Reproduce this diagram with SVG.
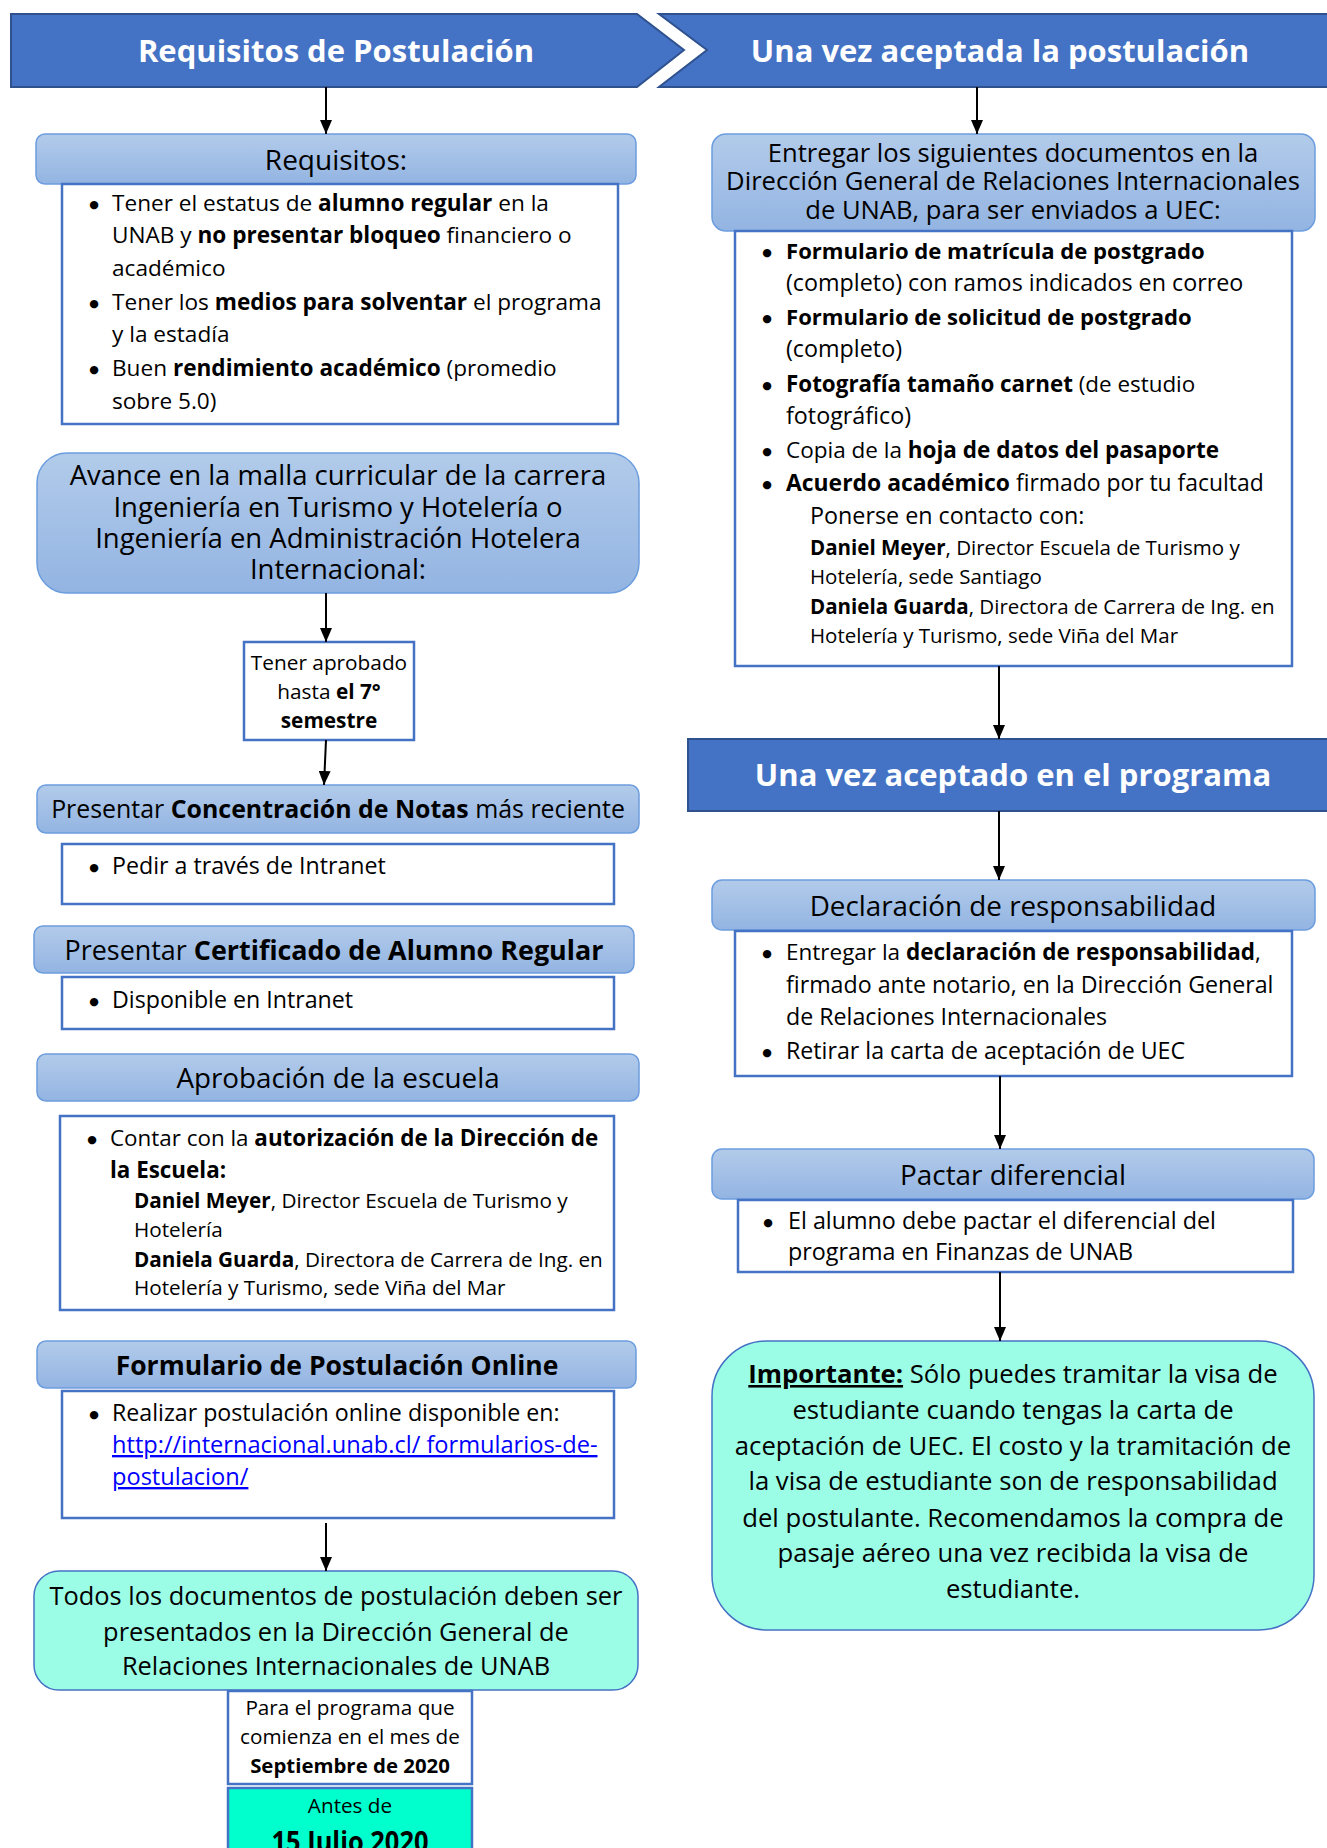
<svg xmlns="http://www.w3.org/2000/svg" width="1327" height="1848" viewBox="0 0 1327 1848">
<defs>
<linearGradient id="g" x1="0" y1="0" x2="0" y2="1">
<stop offset="0" stop-color="#B2CBEA"/>
<stop offset="1" stop-color="#93B4E2"/>
</linearGradient>
<marker id="ah" viewBox="0 0 14 12" refX="14" refY="6" markerWidth="14" markerHeight="12" markerUnits="userSpaceOnUse" orient="auto">
<path d="M0,0 L14,6 L0,12 z" fill="#000"/>
</marker>
<style>
text{font-family:"Open Sans","Noto Sans",sans-serif;fill:#000}
.b{font-weight:bold}
.m{text-anchor:middle}
.w{fill:#fff;font-weight:bold}
.bu{text-anchor:middle;font-family:"DejaVu Sans",sans-serif;font-size:11px}
.ban{fill:#4472C4;stroke:#2F528F;stroke-width:2}
.hdr{fill:url(#g);stroke:#6C9DDE;stroke-width:1.5}
.lst{fill:#fff;stroke:#4472C4;stroke-width:2.5}
.mint{fill:#9CFDE6;stroke:#4472C4;stroke-width:1.5}
.aq{fill:#00FFCC;stroke:#4472C4;stroke-width:2.5}
.lnk{fill:#0000FF;text-decoration:underline}
.con line{stroke:#000;stroke-width:2;marker-end:url(#ah)}
</style>
</defs>
<rect width="1327" height="1848" fill="#fff"/>

<g id="banner-requisitos">
<polygon class="ban" points="11,14 637,14 684,50 637,87 11,87"/>
<text class="w m" x="336" y="62" font-size="31">Requisitos de Postulación</text>
</g>
<g id="banner-aceptada">
<polygon class="ban" points="659,14 1328,14 1328,87 659,87 707,50"/>
<text class="w m" x="1000" y="62" font-size="31">Una vez aceptada la postulación</text>
</g>

<g id="requisitos-header">
<rect class="hdr" x="36" y="134" width="600" height="50" rx="9"/>
<text class="m" x="336" y="170" font-size="28">Requisitos:</text>
</g>
<g id="requisitos-list" font-size="22.6">
<rect class="lst" x="62" y="184" width="556" height="240"/>
<text class="bu" x="94" y="208">●</text>
<text x="112" y="211">Tener el estatus de <tspan class="b">alumno regular</tspan> en la</text>
<text x="112" y="243">UNAB y <tspan class="b">no presentar bloqueo</tspan> financiero o</text>
<text x="112" y="276">académico</text>
<text class="bu" x="94" y="307">●</text>
<text x="112" y="310">Tener los <tspan class="b">medios para solventar</tspan> el programa</text>
<text x="112" y="342">y la estadía</text>
<text class="bu" x="94" y="373">●</text>
<text x="112" y="376">Buen <tspan class="b">rendimiento académico</tspan> (promedio</text>
<text x="112" y="409">sobre 5.0)</text>
</g>

<g id="avance">
<rect class="hdr" x="37" y="453" width="602" height="140" rx="30"/>
<text class="m" font-size="27.5"><tspan x="338" y="485">Avance en la malla curricular de la carrera</tspan><tspan x="338" y="517">Ingeniería en Turismo y Hotelería o</tspan><tspan x="338" y="548">Ingeniería en Administración Hotelera</tspan><tspan x="338" y="579">Internacional:</tspan></text>
</g>

<g id="septimo">
<rect class="lst" x="244" y="642" width="170" height="98"/>
<text class="m" font-size="20.8"><tspan x="329" y="670">Tener aprobado</tspan><tspan x="329" y="699">hasta <tspan class="b">el 7°</tspan></tspan><tspan class="b" x="329" y="728">semestre</tspan></text>
</g>

<g id="concentracion-header">
<rect class="hdr" x="37" y="785" width="602" height="48" rx="9"/>
<text class="m" x="338" y="818" font-size="24.9">Presentar <tspan class="b">Concentración de Notas</tspan> más reciente</text>
</g>
<g id="concentracion-list" font-size="23.2">
<rect class="lst" x="62" y="844" width="552" height="60"/>
<text class="bu" x="94" y="871">●</text>
<text x="112" y="874">Pedir a través de Intranet</text>
</g>

<g id="certificado-header">
<rect class="hdr" x="34" y="926" width="600" height="47" rx="9"/>
<text class="m" x="334" y="960" font-size="26.9">Presentar <tspan class="b">Certificado de Alumno Regular</tspan></text>
</g>
<g id="certificado-list" font-size="23.2">
<rect class="lst" x="62" y="977" width="552" height="52"/>
<text class="bu" x="94" y="1005">●</text>
<text x="112" y="1008">Disponible en Intranet</text>
</g>

<g id="escuela-header">
<rect class="hdr" x="37" y="1054" width="602" height="47" rx="9"/>
<text class="m" x="338" y="1088" font-size="27.8">Aprobación de la escuela</text>
</g>
<g id="escuela-list">
<rect class="lst" x="60" y="1116" width="554" height="194"/>
<g font-size="22.4">
<text class="bu" x="92" y="1143">●</text>
<text x="110" y="1146">Contar con la <tspan class="b">autorización de la Dirección de</tspan></text>
<text class="b" x="110" y="1178">la Escuela:</text>
</g>
<g font-size="20.7">
<text x="134" y="1208"><tspan class="b">Daniel Meyer</tspan>, Director Escuela de Turismo y</text>
<text x="134" y="1237">Hotelería</text>
<text x="134" y="1267"><tspan class="b">Daniela Guarda</tspan>, Directora de Carrera de Ing. en</text>
<text x="134" y="1295">Hotelería y Turismo, sede Viña del Mar</text>
</g>
</g>

<g id="formulario-header">
<rect class="hdr" x="37" y="1341" width="599" height="47" rx="9"/>
<text class="m b" x="337" y="1375" font-size="26.5">Formulario de Postulación Online</text>
</g>
<g id="formulario-list" font-size="23.2">
<rect class="lst" x="62" y="1391" width="552" height="127"/>
<text class="bu" x="94" y="1418">●</text>
<text x="112" y="1421">Realizar postulación online disponible en:</text>
<text class="lnk" x="112" y="1453" font-size="23.6">http://internacional.unab.cl/ formularios-de-</text>
<text class="lnk" x="112" y="1485" font-size="23.6">postulacion/</text>
</g>

<g id="todos">
<rect class="mint" x="34" y="1571" width="604" height="119" rx="25"/>
<text class="m" font-size="25.4"><tspan x="336" y="1605">Todos los documentos de postulación deben ser</tspan><tspan x="336" y="1641">presentados en la Dirección General de</tspan><tspan x="336" y="1675">Relaciones Internacionales de UNAB</tspan></text>
</g>
<g id="septiembre">
<rect class="lst" x="228" y="1691" width="244" height="93"/>
<text class="m" font-size="20.7"><tspan x="350" y="1715">Para el programa que</tspan><tspan x="350" y="1744">comienza en el mes de</tspan><tspan class="b" x="350" y="1773" font-size="20.4">Septiembre de 2020</tspan></text>
</g>
<g id="antes">
<rect class="aq" x="228" y="1788" width="244" height="80"/>
<text class="m" x="350" y="1813" font-size="20.7">Antes de</text>
<text class="m b" x="350" y="1852" font-size="29" textLength="157" lengthAdjust="spacingAndGlyphs">15 Julio 2020</text>
</g>

<g id="entregar-header">
<rect class="hdr" x="712" y="134" width="603" height="97" rx="14"/>
<text class="m" font-size="25.6"><tspan x="1013" y="162">Entregar los siguientes documentos en la</tspan><tspan x="1013" y="190">Dirección General de Relaciones Internacionales</tspan><tspan x="1013" y="219">de UNAB, para ser enviados a UEC:</tspan></text>
</g>
<g id="entregar-list">
<rect class="lst" x="735" y="231" width="557" height="435"/>
<g font-size="23.3">
<text class="bu" x="767" y="256">●</text>
<text class="b" x="786" y="259" font-size="22.1">Formulario de matrícula de postgrado</text>
<text x="786" y="291">(completo) con ramos indicados en correo</text>
<text class="bu" x="767" y="322">●</text>
<text class="b" x="786" y="325" font-size="22.1">Formulario de solicitud de postgrado</text>
<text x="786" y="357">(completo)</text>
<text class="bu" x="767" y="389">●</text>
<text x="786" y="392" font-size="22.4"><tspan class="b">Fotografía tamaño carnet</tspan> (de estudio</text>
<text x="786" y="424">fotográfico)</text>
<text class="bu" x="767" y="455">●</text>
<text x="786" y="458" font-size="22.5">Copia de la <tspan class="b">hoja de datos del pasaporte</tspan></text>
<text class="bu" x="767" y="488">●</text>
<text x="786" y="491" font-size="22.9"><tspan class="b">Acuerdo académico</tspan> firmado por tu facultad</text>
<text x="810" y="524">Ponerse en contacto con:</text>
</g>
<g font-size="20.5">
<text x="810" y="555"><tspan class="b">Daniel Meyer</tspan>, Director Escuela de Turismo y</text>
<text x="810" y="584">Hotelería, sede Santiago</text>
<text x="810" y="614"><tspan class="b">Daniela Guarda</tspan>, Directora de Carrera de Ing. en</text>
<text x="810" y="643">Hotelería y Turismo, sede Viña del Mar</text>
</g>
</g>

<g id="banner-programa">
<rect class="ban" x="688" y="739" width="641" height="72"/>
<text class="w m" x="1013" y="786" font-size="31">Una vez aceptado en el programa</text>
</g>

<g id="declaracion-header">
<rect class="hdr" x="712" y="880" width="603" height="50" rx="10"/>
<text class="m" x="1013" y="916" font-size="27.8">Declaración de responsabilidad</text>
</g>
<g id="declaracion-list" font-size="23.2">
<rect class="lst" x="735" y="931" width="557" height="145"/>
<text class="bu" x="767" y="957">●</text>
<text x="786" y="960" font-size="22.5">Entregar la <tspan class="b">declaración de responsabilidad</tspan>,</text>
<text x="786" y="993">firmado ante notario, en la Dirección General</text>
<text x="786" y="1025">de Relaciones Internacionales</text>
<text class="bu" x="767" y="1056">●</text>
<text x="786" y="1059">Retirar la carta de aceptación de UEC</text>
</g>

<g id="pactar-header">
<rect class="hdr" x="712" y="1149" width="602" height="50" rx="10"/>
<text class="m" x="1013" y="1185" font-size="27.9">Pactar diferencial</text>
</g>
<g id="pactar-list" font-size="23.3">
<rect class="lst" x="738" y="1200" width="555" height="72"/>
<text class="bu" x="768" y="1226">●</text>
<text x="788" y="1229">El alumno debe pactar el diferencial del</text>
<text x="788" y="1260">programa en Finanzas de UNAB</text>
</g>

<g id="importante">
<rect class="mint" x="712" y="1341" width="602" height="289" rx="55"/>
<text class="m" font-size="25.7"><tspan x="1013" y="1383"><tspan class="b" text-decoration="underline">Importante:</tspan> Sólo puedes tramitar la visa de</tspan><tspan x="1013" y="1419">estudiante cuando tengas la carta de</tspan><tspan x="1013" y="1455">aceptación de UEC. El costo y la tramitación de</tspan><tspan x="1013" y="1490">la visa de estudiante son de responsabilidad</tspan><tspan x="1013" y="1527">del postulante. Recomendamos la compra de</tspan><tspan x="1013" y="1562">pasaje aéreo una vez recibida la visa de</tspan><tspan x="1013" y="1598">estudiante.</tspan></text>
</g>

<g id="connectors" class="con">
<line x1="326" y1="87" x2="326" y2="134"/>
<line x1="977" y1="87" x2="977" y2="134"/>
<line x1="326" y1="593" x2="326" y2="642"/>
<line x1="326" y1="740" x2="324" y2="785"/>
<line x1="326" y1="1523" x2="326" y2="1571"/>
<line x1="999" y1="666" x2="999" y2="739"/>
<line x1="999" y1="811" x2="999" y2="880"/>
<line x1="1000" y1="1076" x2="1000" y2="1149"/>
<line x1="1000" y1="1272" x2="1000" y2="1341"/>
</g>
</svg>
